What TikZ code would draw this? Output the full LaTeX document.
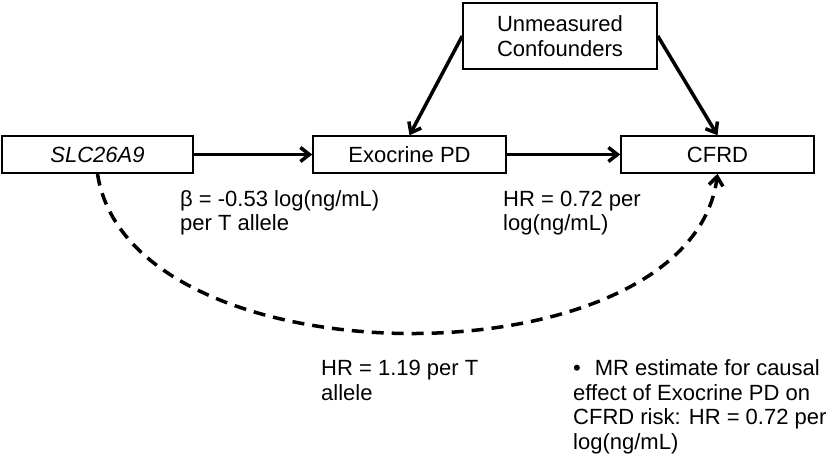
\documentclass[tikz,border=0pt]{standalone}
\usepackage{fontspec}
\setmainfont{Liberation Sans}
\usetikzlibrary{arrows.meta}
\usetikzlibrary{positioning}

\tikzset{
    varbox/.style={draw, line width=1.5pt, minimum width=193pt, minimum height=37pt, inner sep=0pt},
    effect/.style={align=left, anchor=base west, inner sep=0pt, font=\fontsize{22}{23.3}\selectfont},
    causal/.style={line width=3.5pt, -{Straight Barb[length=9pt,width=14pt]}},
    instrument/.style={causal, dash pattern=on 12pt off 8pt}
}

\begin{document}
\begin{tikzpicture}[x=1pt, y=1pt, font=\fontsize{22}{25}\selectfont]
            \useasboundingbox (0,0) rectangle (826,459);
            % variables
            \node[varbox, minimum width=191pt] (gene) at (97.5,304.5) {\itshape SLC26A9};
            \node[varbox] (pd) at (409.5,304.5) {Exocrine PD};
            \node[varbox] (cfrd) at (717.5,304.5) {CFRD};
            \node[varbox, minimum width=194pt, minimum height=66pt, align=center] (conf) at (560,423) {Unmeasured\\Confounders};
            % effects
            \draw[causal] (gene) -- (pd);
            \draw[causal] (pd) -- (cfrd);
            \draw[causal] (conf.west) -- (pd.north);
            \draw[causal] (conf.east) -- (cfrd.north);
            \draw[instrument] (gene.south) .. controls (130,73) and (690,73) .. (cfrd.south);
            % estimates (base = last line)
            \node[effect] (beta) at (180,229) {β = -0.53 log(ng/mL)\\per T allele};
            \node[effect] (hrpd) at (503,229) {HR = 0.72 per\\log(ng/mL)};
            \node[effect, font=\fontsize{22}{24.5}\selectfont] (hrgene) at (321,59) {HR = 1.19 per T\\allele};
            \node[effect, font=\fontsize{22}{24.5}\selectfont] (mr) at (573,10) {\textbullet\hspace{14pt}MR estimate for causal\\effect of Exocrine PD on\\CFRD risk: HR = 0.72 per\\log(ng/mL)};
        \end{tikzpicture}
\end{document}
